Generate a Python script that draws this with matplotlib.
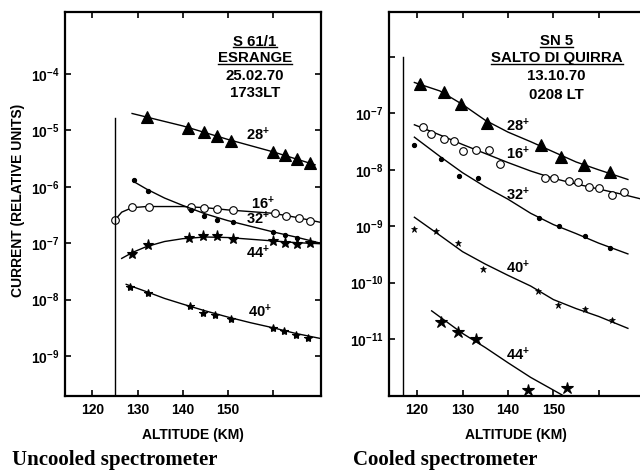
import numpy as np
import matplotlib
matplotlib.use('Agg')
import matplotlib.pyplot as plt
from matplotlib.lines import Line2D
from matplotlib.ticker import NullLocator
from matplotlib.transforms import IdentityTransform

plt.rcParams['font.family'] = 'Liberation Sans'
plt.rcParams['font.weight'] = 'bold'
plt.rcParams['axes.labelweight'] = 'bold'
plt.rcParams['mathtext.fontset'] = 'custom'
plt.rcParams['mathtext.rm'] = 'Liberation Sans:bold'
plt.rcParams['mathtext.it'] = 'Liberation Sans:bold'
plt.rcParams['mathtext.bf'] = 'Liberation Sans:bold'
plt.rcParams['mathtext.default'] = 'rm'

# All currents stored as log10 (relative units), altitudes in km

# --- S 61/1 ESRANGE (uncooled) ---
l28_alt = [132.0, 141.2, 144.8, 147.7, 150.8, 160.0, 162.6, 165.2, 168.2]
l28_log = [-4.76, -4.95, -5.03, -5.10, -5.19, -5.39, -5.44, -5.51, -5.57]
l28_fit_alt = [128.8, 140, 150, 160, 169.3]
l28_fit_log = [-4.70, -4.92, -5.16, -5.38, -5.61]

l16_alt = [125.0, 128.8, 132.5, 141.8, 144.8, 147.7, 151.2, 160.4, 162.8, 165.7, 168.2]
l16_log = [-6.59, -6.36, -6.35, -6.35, -6.38, -6.39, -6.42, -6.47, -6.51, -6.56, -6.61]
l16_fit_alt = [125.0, 126.5, 128.8, 132, 140, 145, 150, 160, 165, 170.5]
l16_fit_log = [-6.59, -6.45, -6.37, -6.35, -6.35, -6.37, -6.41, -6.47, -6.54, -6.63]

l32_alt = [129.3, 132.3, 141.8, 144.8, 147.7, 151.2, 160.0, 162.6, 165.2]
l32_log = [-5.88, -6.07, -6.41, -6.51, -6.59, -6.63, -6.81, -6.85, -6.90]
l32_fit_alt = [129, 132, 136, 140, 145, 150, 155, 160, 165, 170.5]
l32_fit_log = [-5.90, -6.04, -6.20, -6.33, -6.48, -6.60, -6.70, -6.80, -6.89, -7.00]

l44_alt = [128.7, 132.3, 141.5, 144.6, 147.7, 151.2, 160.0, 162.6, 165.4, 168.2]
l44_log = [-7.19, -7.03, -6.90, -6.87, -6.87, -6.93, -6.97, -6.99, -7.01, -6.99]
l44_fit_alt = [126.5, 129, 132, 136, 140, 145, 150, 155, 160, 165, 170.5]
l44_fit_log = [-7.27, -7.16, -7.06, -6.97, -6.92, -6.89, -6.90, -6.93, -6.96, -6.99, -7.01]

l40_alt = [128.3, 132.3, 141.6, 144.6, 147.1, 150.7, 159.9, 162.5, 165.0, 167.8]
l40_log = [-7.77, -7.88, -8.11, -8.23, -8.28, -8.34, -8.50, -8.55, -8.62, -8.68]
l40_fit_alt = [127.5, 132, 136, 140, 145, 150, 155, 160, 165, 170.5]
l40_fit_log = [-7.73, -7.86, -7.98, -8.08, -8.20, -8.31, -8.41, -8.50, -8.60, -8.69]

# --- SN 5 SALTO DI QUIRRA (cooled) ---
r28_alt = [120.7, 126.0, 129.7, 135.4, 147.3, 151.6, 156.8, 162.4]
r28_log = [-6.48, -6.62, -6.84, -7.17, -7.55, -7.78, -7.92, -8.04]
r28_fit_alt = [119.4, 125, 130, 135, 140, 145, 150, 155, 160, 166.4]
r28_fit_log = [-6.45, -6.60, -6.84, -7.12, -7.33, -7.50, -7.68, -7.86, -8.00, -8.17]

r16_alt = [121.2, 123.0, 126.0, 128.2, 130.1, 132.9, 135.8, 138.3, 148.2, 150.2,
           153.5, 155.5, 157.9, 160.1, 163.0, 165.6]
r16_log = [-7.24, -7.37, -7.45, -7.49, -7.67, -7.65, -7.65, -7.89, -8.15, -8.15,
           -8.20, -8.22, -8.30, -8.32, -8.45, -8.40]
r16_fit_alt = [119.4, 125, 130, 135, 140, 145, 150, 155, 160, 165, 169.0]
r16_fit_log = [-7.20, -7.38, -7.55, -7.71, -7.87, -8.02, -8.15, -8.25, -8.34, -8.43, -8.51]

r32_alt = [119.4, 125.2, 129.3, 133.4, 146.8, 151.2, 157.0, 162.5]
r32_log = [-7.55, -7.80, -8.10, -8.14, -8.85, -9.00, -9.18, -9.39]
r32_fit_alt = [119.4, 125, 130, 135, 140, 145, 150, 155, 160, 166.4]
r32_fit_log = [-7.42, -7.76, -8.05, -8.30, -8.52, -8.77, -8.97, -9.13, -9.30, -9.49]

r40_alt = [119.4, 124.2, 128.9, 134.4, 146.6, 151.1, 157.0, 162.8]
r40_log = [-9.05, -9.09, -9.30, -9.75, -10.14, -10.40, -10.47, -10.67]
r40_fit_alt = [119.4, 125, 130, 135, 140, 145, 150, 155, 160, 166.4]
r40_fit_log = [-8.84, -9.16, -9.45, -9.67, -9.87, -10.06, -10.30, -10.46, -10.60, -10.81]

r44_alt = [125.2, 128.9, 133.0, 144.3, 153.1]
r44_log = [-10.69, -10.87, -11.00, -11.90, -11.87]
r44_fit_alt = [123.2, 130, 135, 140, 145, 152.1]
r44_fit_log = [-10.50, -10.90, -11.15, -11.42, -11.68, -12.0]

x_ticks = [120, 130, 140, 150, 160]
x_labels = ['120', '130', '140', '150', '']
left_y_exp = [-9, -8, -7, -6, -5, -4]
right_y_exp = [-11, -10, -9, -8, -7, -6]

# instrument start lines (altitude, top of line as log10)
left_start = (125.0, -4.78)
right_start = (116.8, -6.0)


def curve(ax, alt, lg, fit_alt, fit_lg, marker, ms, mfc='black', mew=0.8):
    ax.plot(fit_alt, np.power(10.0, fit_lg), color='black', lw=1.0)
    ax.plot(alt, np.power(10.0, lg), ls='none', marker=marker, ms=ms,
            mfc=mfc, mec='black', mew=mew)


def setup(ax, xlim, ylim, y_exp, right_ticks, label_top):
    ax.set_yscale('log')
    ax.set_xlim(xlim)
    ax.set_ylim(10.0 ** ylim[0], 10.0 ** ylim[1])
    ax.set_xticks(x_ticks)
    ax.set_xticklabels(x_labels)
    ax.set_yticks([10.0 ** e for e in y_exp])
    ax.set_yticklabels(['' if e == label_top else r'$10^{%d}$' % e for e in y_exp])
    ax.yaxis.set_minor_locator(NullLocator())
    ax.xaxis.set_minor_locator(NullLocator())
    ax.tick_params(axis='both', direction='in', length=4, width=1.2,
                   labelsize=10, top=True, right=right_ticks)
    ax.tick_params(axis='x', pad=5)
    ax.tick_params(axis='y', pad=4)
    for s in ax.spines.values():
        s.set_linewidth(1.6)
    ax.set_xlabel('ALTITUDE (KM)', fontsize=10, fontweight='bold', labelpad=8)


fig = plt.figure(figsize=(6.4, 4.72), dpi=100)

axL = fig.add_axes([0.1016, 0.161, 0.3992, 0.8136])
setup(axL, (113.96, 170.5), (-9.71, -2.90), left_y_exp, True, None)
curve(axL, l28_alt, l28_log, l28_fit_alt, l28_fit_log, '^', 8.5)
curve(axL, l16_alt, l16_log, l16_fit_alt, l16_fit_log, 'o', 5.5, mfc='white')
curve(axL, l32_alt, l32_log, l32_fit_alt, l32_fit_log, 'o', 3)
curve(axL, l44_alt, l44_log, l44_fit_alt, l44_fit_log, '*', 8)
curve(axL, l40_alt, l40_log, l40_fit_alt, l40_fit_log, '*', 6)
axL.plot([left_start[0]] * 2, [10.0 ** left_start[1], 10.0 ** -9.71], color='black', lw=1.0)

for txt, xy in [('$28^{+}$', (156.7, -5.08)), ('$16^{+}$', (157.8, -6.29)),
                ('$32^{+}$', (156.7, -6.57)), ('$44^{+}$', (156.7, -7.17)),
                ('$40^{+}$', (157.1, -8.22))]:
    axL.text(xy[0], 10.0 ** xy[1], txt, fontsize=10.5, ha='center', va='center')

axR = fig.add_axes([0.6078, 0.161, 0.3953, 0.8136])
setup(axR, (113.81, 169.5), (-12.01, -5.20), right_y_exp, False, -6)
axR.spines['right'].set_visible(False)
curve(axR, r28_alt, r28_log, r28_fit_alt, r28_fit_log, '^', 8.5)
curve(axR, r16_alt, r16_log, r16_fit_alt, r16_fit_log, 'o', 5.5, mfc='white')
curve(axR, r32_alt, r32_log, r32_fit_alt, r32_fit_log, 'o', 3)
curve(axR, r40_alt, r40_log, r40_fit_alt, r40_fit_log, '*', 5, mew=0.5)
curve(axR, r44_alt, r44_log, r44_fit_alt, r44_fit_log, '*', 9)
axR.plot([right_start[0]] * 2, [10.0 ** right_start[1], 10.0 ** -12.01], color='black', lw=1.0)

for txt, xy in [('$28^{+}$', (142.3, -7.21)), ('$16^{+}$', (142.3, -7.71)),
                ('$32^{+}$', (142.3, -8.44)), ('$40^{+}$', (142.3, -9.74)),
                ('$44^{+}$', (142.3, -11.28))]:
    axR.text(xy[0], 10.0 ** xy[1], txt, fontsize=10.5, ha='center', va='center')

# site / date blocks
underlined = []
for ax, cx, lines in [(axL, 0.744, [('S 61/1', 0.922, True), ('ESRANGE', 0.880, True),
                                     ('25.02.70', 0.833, False), ('1733LT', 0.789, False)]),
                      (axR, 0.663, [('SN 5', 0.924, True), ('SALTO DI QUIRRA', 0.880, True),
                                     ('13.10.70', 0.833, False), ('0208 LT', 0.784, False)])]:
    for s, y, ul in lines:
        t = ax.text(cx, y, s, transform=ax.transAxes, fontsize=10.8, ha='center', va='center')
        if ul:
            underlined.append(t)

fig.text(0.028, 0.576, 'CURRENT (RELATIVE UNITS)', rotation=90, fontsize=10,
         fontweight='bold', ha='center', va='center')
fig.text(12 / 640, 1 - 460 / 472, 'Uncooled spectrometer', family='Liberation Serif',
         fontsize=15, weight='bold', va='center')
fig.text(353 / 640, 1 - 460 / 472, 'Cooled spectrometer', family='Liberation Serif',
         fontsize=15, weight='bold', va='center')

# underline the site names
fig.canvas.draw()
for t in underlined:
    bb = t.get_window_extent()
    fig.add_artist(Line2D([bb.x0, bb.x1], [bb.y0 + 1.5, bb.y0 + 1.5], color='black',
                          lw=1.0, transform=IdentityTransform()))

fig.savefig('out.png', dpi=100)
